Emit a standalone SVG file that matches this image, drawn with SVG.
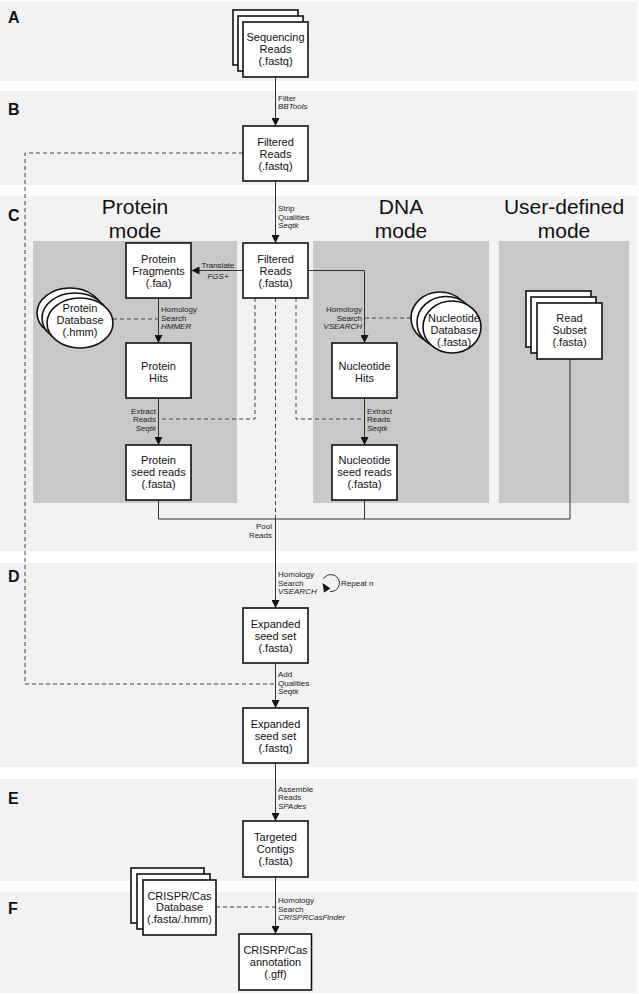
<svg xmlns="http://www.w3.org/2000/svg" width="639" height="994" viewBox="0 0 639 994">
<defs>
<marker id="ah" viewBox="0 0 8 8" markerWidth="8" markerHeight="8" refX="8" refY="4" orient="auto" markerUnits="userSpaceOnUse"><path d="M0,0 L8,4 L0,8 z" fill="#111"/></marker>
<style>
.band{fill:#f2f2f2}
.panel{fill:#c8c8c8}
.box{fill:#fff;stroke:#111;stroke-width:1.6}
.ell{fill:#fff;stroke:#111;stroke-width:1.6}
.bt{font-family:"Liberation Sans",Arial,sans-serif;font-size:11px;fill:#111;text-anchor:middle}
.lb{font-family:"Liberation Sans",Arial,sans-serif;font-size:8px;fill:#222}
.it{font-style:italic}
.sec{font-family:"Liberation Sans",Arial,sans-serif;font-size:16px;font-weight:bold;fill:#111}
.ttl{font-family:"Liberation Sans",Arial,sans-serif;font-size:21px;fill:#111;text-anchor:middle}
.ln{fill:none;stroke:#333;stroke-width:1}
.ds{fill:none;stroke:#444;stroke-width:1;stroke-dasharray:4 3}
</style>
</defs>
<rect width="639" height="994" fill="#fff"/>
<g id="bands">
<rect class="band" x="0" y="2" width="637" height="79"/>
<rect class="band" x="0" y="91" width="637" height="94"/>
<rect class="band" x="0" y="196" width="637" height="355"/>
<rect class="band" x="0" y="563" width="637" height="204"/>
<rect class="band" x="0" y="779" width="637" height="102"/>
<rect class="band" x="0" y="892" width="637" height="101"/>
<rect class="panel" x="33" y="241" width="204" height="262"/>
<rect class="panel" x="313" y="241" width="176" height="262"/>
<rect class="panel" x="499" y="241" width="130" height="262"/>
<text class="sec" x="8" y="23">A</text>
<text class="sec" x="8" y="115">B</text>
<text class="sec" x="8" y="221">C</text>
<text class="sec" x="8" y="582">D</text>
<text class="sec" x="8" y="804">E</text>
<text class="sec" x="8" y="914">F</text>
<text class="ttl" x="135" y="214">Protein</text>
<text class="ttl" x="135" y="238">mode</text>
<text class="ttl" x="401" y="214">DNA</text>
<text class="ttl" x="401" y="238">mode</text>
<text class="ttl" x="564" y="214">User-defined</text>
<text class="ttl" x="564" y="238">mode</text>
</g>
<g id="connectors">
<line class="ln" x1="275.5" y1="77" x2="275.5" y2="126" marker-end="url(#ah)"/>
<line class="ln" x1="275.5" y1="181" x2="275.5" y2="243" marker-end="url(#ah)"/>
<path class="ds" d="M243,153 H25 V684 H275"/>
<line class="ln" x1="243" y1="270.5" x2="191.5" y2="270.5" marker-end="url(#ah)"/>
<line class="ln" x1="158.5" y1="298" x2="158.5" y2="343" marker-end="url(#ah)"/>
<line class="ds" x1="113" y1="319" x2="158.5" y2="319"/>
<line class="ln" x1="158.5" y1="398" x2="158.5" y2="445" marker-end="url(#ah)"/>
<path class="ds" d="M255,298 V419 H158.5"/>
<path class="ds" d="M296,298 V419 H364.5"/>
<path class="ds" d="M275.5,298 V519"/>
<path class="ln" d="M308,270.5 H364.5 V343" marker-end="url(#ah)"/>
<line class="ds" x1="411" y1="318" x2="364.5" y2="318"/>
<line class="ln" x1="364.5" y1="398" x2="364.5" y2="445" marker-end="url(#ah)"/>
<path class="ln" d="M158.5,500 V519 H570 V359"/>
<path class="ln" d="M364.5,500 V519"/>
<line class="ln" x1="275.5" y1="519" x2="275.5" y2="608" marker-end="url(#ah)"/>
<line class="ln" x1="275.5" y1="663" x2="275.5" y2="708" marker-end="url(#ah)"/>
<line class="ln" x1="275.5" y1="763" x2="275.5" y2="821" marker-end="url(#ah)"/>
<line class="ln" x1="275.5" y1="877" x2="275.5" y2="934" marker-end="url(#ah)"/>
<line class="ds" x1="216" y1="907" x2="275.5" y2="907"/>
<path class="ln" d="M323.5,579 A8.5,8.5 0 1 1 330,591.5"/>
<polygon points="322.5,583 330.5,588.5 324,592.5" fill="#111"/>
<text class="lb" x="278" y="101">Filter</text>
<text class="lb it" x="278" y="109">BBTools</text>
<text class="lb" x="278" y="211">Strip</text>
<text class="lb" x="278" y="219.5">Qualities</text>
<text class="lb it" x="278" y="228">Seqtk</text>
<text class="lb" x="218" y="268" text-anchor="middle">Translate</text>
<text class="lb it" x="218" y="279" text-anchor="middle">FGS+</text>
<text class="lb" x="161" y="312">Homology</text>
<text class="lb" x="161" y="320.5">Search</text>
<text class="lb it" x="161" y="329">HMMER</text>
<text class="lb" x="362" y="312" text-anchor="end">Homology</text>
<text class="lb" x="362" y="320.5" text-anchor="end">Search</text>
<text class="lb it" x="362" y="329" text-anchor="end">VSEARCH</text>
<text class="lb" x="156" y="413.5" text-anchor="end">Extract</text>
<text class="lb" x="156" y="422" text-anchor="end">Reads</text>
<text class="lb it" x="156" y="430.5" text-anchor="end">Seqtk</text>
<text class="lb" x="367" y="413.5">Extract</text>
<text class="lb" x="367" y="422">Reads</text>
<text class="lb it" x="367" y="430.5">Seqtk</text>
<text class="lb" x="272" y="529" text-anchor="end">Pool</text>
<text class="lb" x="272" y="537.5" text-anchor="end">Reads</text>
<text class="lb" x="278" y="577">Homology</text>
<text class="lb" x="278" y="585.5">Search</text>
<text class="lb it" x="278" y="594">VSEARCH</text>
<text class="lb" x="341" y="586" font-size="5">Repeat n</text>
<text class="lb" x="278" y="677">Add</text>
<text class="lb" x="278" y="685.5">Qualities</text>
<text class="lb it" x="278" y="694">Seqtk</text>
<text class="lb" x="278" y="791.5">Assemble</text>
<text class="lb" x="278" y="800">Reads</text>
<text class="lb it" x="278" y="808.5">SPAdes</text>
<text class="lb" x="278" y="903">Homology</text>
<text class="lb" x="278" y="911.5">Search</text>
<text class="lb it" x="278" y="920">CRISPRCasFinder</text>
</g>
<g id="sequencing-reads">
<rect class="box" x="233" y="10" width="65" height="55"/>
<rect class="box" x="238" y="16" width="65" height="55"/>
<rect class="box" x="243" y="22" width="65" height="55"/>
<text class="bt" x="275.5" y="41">Sequencing</text>
<text class="bt" x="275.5" y="53">Reads</text>
<text class="bt" x="275.5" y="65">(.fastq)</text>
</g>
<g id="filtered-fastq">
<rect class="box" x="243" y="126" width="65" height="55"/>
<text class="bt" x="275.5" y="145.5">Filtered</text>
<text class="bt" x="275.5" y="157.5">Reads</text>
<text class="bt" x="275.5" y="169.5">(.fastq)</text>
</g>
<g id="filtered-fasta">
<rect class="box" x="243" y="243" width="65" height="55"/>
<text class="bt" x="275.5" y="263">Filtered</text>
<text class="bt" x="275.5" y="275">Reads</text>
<text class="bt" x="275.5" y="287">(.fasta)</text>
</g>
<g id="protein-fragments">
<rect class="box" x="126" y="243" width="65" height="55"/>
<text class="bt" x="158.5" y="263">Protein</text>
<text class="bt" x="158.5" y="275">Fragments</text>
<text class="bt" x="158.5" y="287">(.faa)</text>
</g>
<g id="protein-database">
<ellipse class="ell" cx="70" cy="313" rx="33" ry="25"/>
<ellipse class="ell" cx="75" cy="318" rx="33" ry="25"/>
<ellipse class="ell" cx="80" cy="323" rx="33" ry="25"/>
<text class="bt" x="80" y="312">Protein</text>
<text class="bt" x="80" y="324">Database</text>
<text class="bt" x="80" y="336">(.hmm)</text>
</g>
<g id="protein-hits">
<rect class="box" x="126" y="343" width="65" height="55"/>
<text class="bt" x="158.5" y="370">Protein</text>
<text class="bt" x="158.5" y="382">Hits</text>
</g>
<g id="protein-seed">
<rect class="box" x="126" y="445" width="65" height="55"/>
<text class="bt" x="158.5" y="464">Protein</text>
<text class="bt" x="158.5" y="476">seed reads</text>
<text class="bt" x="158.5" y="488">(.fasta)</text>
</g>
<g id="nucleotide-database">
<ellipse class="ell" cx="440" cy="318" rx="29" ry="26"/>
<ellipse class="ell" cx="446" cy="322.5" rx="29" ry="26"/>
<ellipse class="ell" cx="452" cy="327" rx="29" ry="26"/>
<text class="bt" x="454" y="322">Nucleotide</text>
<text class="bt" x="454" y="334">Database</text>
<text class="bt" x="454" y="346">(.fasta)</text>
</g>
<g id="nucleotide-hits">
<rect class="box" x="332" y="343" width="65" height="55"/>
<text class="bt" x="364.5" y="370">Nucleotide</text>
<text class="bt" x="364.5" y="382">Hits</text>
</g>
<g id="nucleotide-seed">
<rect class="box" x="332" y="445" width="65" height="55"/>
<text class="bt" x="364.5" y="464">Nucleotide</text>
<text class="bt" x="364.5" y="476">seed reads</text>
<text class="bt" x="364.5" y="488">(.fasta)</text>
</g>
<g id="read-subset">
<rect class="box" x="526" y="291" width="65" height="56"/>
<rect class="box" x="531" y="297" width="65" height="56"/>
<rect class="box" x="537" y="303" width="65" height="56"/>
<text class="bt" x="569.5" y="322">Read</text>
<text class="bt" x="569.5" y="334">Subset</text>
<text class="bt" x="569.5" y="346">(.fasta)</text>
</g>
<g id="expanded-fasta">
<rect class="box" x="243" y="608" width="65" height="55"/>
<text class="bt" x="275.5" y="627.5">Expanded</text>
<text class="bt" x="275.5" y="639.5">seed set</text>
<text class="bt" x="275.5" y="651.5">(.fasta)</text>
</g>
<g id="expanded-fastq">
<rect class="box" x="243" y="708" width="65" height="55"/>
<text class="bt" x="275.5" y="727.5">Expanded</text>
<text class="bt" x="275.5" y="739.5">seed set</text>
<text class="bt" x="275.5" y="751.5">(.fastq)</text>
</g>
<g id="targeted-contigs">
<rect class="box" x="243" y="821" width="65" height="56"/>
<text class="bt" x="275.5" y="841">Targeted</text>
<text class="bt" x="275.5" y="853">Contigs</text>
<text class="bt" x="275.5" y="865">(.fasta)</text>
</g>
<g id="crispr-database">
<rect class="box" x="131" y="868" width="73" height="55"/>
<rect class="box" x="137" y="874" width="73" height="55"/>
<rect class="box" x="143" y="880" width="73" height="55"/>
<text class="bt" x="179.5" y="899.5">CRISPR/Cas</text>
<text class="bt" x="179.5" y="911">Database</text>
<text class="bt" x="179.5" y="922.5">(.fasta/.hmm)</text>
</g>
<g id="crispr-annotation">
<rect class="box" x="239" y="934" width="72.5" height="56"/>
<text class="bt" x="275.5" y="954">CRISRP/Cas</text>
<text class="bt" x="275.5" y="966">annotation</text>
<text class="bt" x="275.5" y="978">(.gff)</text>
</g>
</svg>
